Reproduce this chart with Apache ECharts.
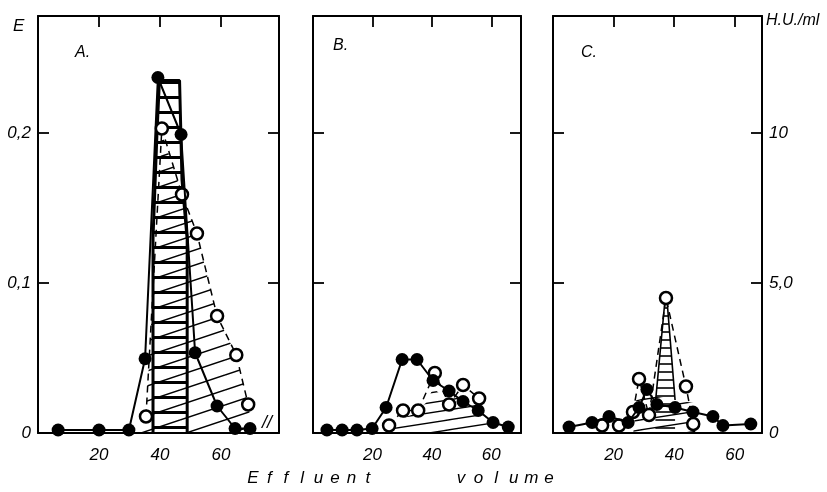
<!DOCTYPE html>
<html><head><meta charset="utf-8">
<script src="https://cdn.jsdelivr.net/npm/echarts@6/dist/echarts.min.js"></script>
<style>html,body{margin:0;padding:0;background:#fff}#c{width:827px;height:492px}</style>
</head><body><div id="c"></div>
<script>
// ---- data (effluent volume, E / H.U.) ----
const xTicks = [20, 40, 60];
const eTicks = [0, 0.1, 0.2];
const eTickLabels = ['0', '0,1', '0,2'];
const huTicks = [0, 5, 10];
const huTickLabels = ['0', '5,0', '10'];

const aFilled = [[6.6,0.002],[20,0.002],[29.8,0.002],[35.1,0.0495],[39.3,0.237],[46.9,0.199],[51.5,0.0535],[58.7,0.018],[64.6,0.003],[69.5,0.003]];
const aOpen = [[35.4,0.011],[40.6,0.203],[47.2,0.159],[52.1,0.133],[58.7,0.078],[65,0.052],[68.9,0.019]];
const aHatch = [[33.5,0],[35.4,0.011],[40.6,0.2],[47.2,0.159],[52.1,0.133],[58.7,0.078],[65,0.052],[68.9,0.019],[70.5,0]];
const aLadder = [[37.7,0],[37.7,0.13],[39,0.2],[39.8,0.235],[46.4,0.235],[47.2,0.169],[48.9,0.129],[48.9,0]];

const bFilled = [[4.7,0.002],[9.8,0.002],[14.8,0.002],[19.9,0.003],[24.6,0.017],[30,0.049],[35,0.049],[40.4,0.035],[45.8,0.028],[50.5,0.021],[55.6,0.015],[60.6,0.007],[65.7,0.004]];
const bOpen = [[25.6,0.005],[30.3,0.015],[35.4,0.015],[41,0.040],[45.8,0.019],[50.5,0.032],[55.9,0.023]];
const bHatch = [[25,0],[27,0.008],[33,0.012],[38,0.02],[40.5,0.03],[45,0.022],[50.5,0.025],[55.9,0.02],[60,0]];

const cFilled = [[5.3,0.004],[12.9,0.007],[18.5,0.011],[24.8,0.007],[28.4,0.017],[31,0.029],[34.3,0.019],[40.3,0.017],[46.2,0.014],[52.8,0.011],[56.1,0.005],[65.3,0.006]];
const cOpen = [[16.2,0.005],[21.8,0.005],[26.4,0.014],[28.4,0.036],[31.7,0.012],[37.3,0.09],[43.9,0.031],[46.3,0.006]];
const cHatch = [[26.5,0],[27.5,0.022],[33,0.025],[40,0.022],[46.5,0.02],[47,0]];
const cSpikeHU = [[33.8,1.0],[36.9,4.35],[37.7,4.35],[40.3,1.1]];

// ---- patterns ----
function pattern(w, h, lw, fn) {
  const c = document.createElement('canvas'); c.width = w; c.height = h;
  const g = c.getContext('2d'); g.strokeStyle = '#000'; g.lineWidth = lw; fn(g, w, h);
  return { image: c, repeat: 'repeat' };
}
function diag(w, h, lw) {
  return pattern(w, h, lw, (g, W, H) => { for (let k = -1; k <= 1; k++) { g.beginPath(); g.moveTo(0, H + k * H); g.lineTo(W, k * H); g.stroke(); } });
}
function rungs(w, h, lw) {
  return pattern(w, h, lw, (g, W, H) => { g.beginPath(); g.moveTo(0, H / 2); g.lineTo(W, H / 2); g.stroke(); });
}
const diagA = diag(45, 15, 1.5), diagB = diag(64, 10, 1.3), rungA = rungs(8, 15, 3), rungC = rungs(8, 8, 1.6);

const FONT = '"Liberation Sans", Arial, sans-serif';
const axLine = { show: true, onZero: false, lineStyle: { color: '#000', width: 2 } };
const tickStyle = { color: '#000', width: 1.8 };
const lab = { color: '#000', fontSize: 17, fontStyle: 'italic', fontFamily: FONT };

function xBottom(gi, max) {
  return { type: 'value', gridIndex: gi, min: 0, max, position: 'bottom', axisLine: axLine, axisTick: { show: false },
    splitLine: { show: false }, axisLabel: Object.assign({ customValues: xTicks, margin: 14 }, lab) };
}
function xTop(gi, max) {
  return { type: 'value', gridIndex: gi, min: 0, max, position: 'top', axisLine: axLine,
    axisTick: { show: true, inside: true, length: 11, customValues: xTicks, lineStyle: tickStyle },
    axisLabel: { show: false, customValues: xTicks }, splitLine: { show: false } };
}
function yAx(gi, pos, max, ticks, labels, tickVals, showLabel) {
  return { type: 'value', gridIndex: gi, min: 0, max, position: pos, axisLine: axLine,
    axisTick: { show: true, inside: true, length: 11, customValues: tickVals, lineStyle: tickStyle },
    axisLabel: Object.assign({ show: showLabel, customValues: ticks, margin: 7,
      formatter: v => { const i = ticks.findIndex(t => Math.abs(t - v) < 1e-9); return i >= 0 ? labels[i] : ''; } }, lab),
    splitLine: { show: false } };
}
const EMAX = 0.278, HUMAX = 13.9;

function hatch(xi, yi, data, col) {
  return { type: 'line', xAxisIndex: xi, yAxisIndex: yi, data, symbol: 'none', silent: true, clip: false,
    lineStyle: { width: 0, opacity: 0 }, areaStyle: { color: col, opacity: 1 }, z: 1 };
}
function outlined(xi, yi, data, col, w) {
  return { type: 'line', xAxisIndex: xi, yAxisIndex: yi, data, symbol: 'none', silent: true, clip: false,
    lineStyle: { width: w, color: '#000' }, areaStyle: { color: col, opacity: 1 }, z: 2 };
}
function openS(xi, yi, data) {
  return { type: 'line', xAxisIndex: xi, yAxisIndex: yi, data, symbol: 'circle', symbolSize: 12, showAllSymbol: true, silent: true, clip: false,
    itemStyle: { color: '#fff', borderColor: '#000', borderWidth: 2.5 }, lineStyle: { color: '#000', width: 1.5, type: [7, 5] }, z: 3 };
}
function filledS(xi, yi, data) {
  return { type: 'line', xAxisIndex: xi, yAxisIndex: yi, data, symbol: 'circle', symbolSize: 13, showAllSymbol: true, silent: true, clip: false,
    itemStyle: { color: '#000' }, lineStyle: { color: '#000', width: 2 }, z: 4 };
}

const graphics = [];
function txt(x, y, s, size, align) {
  graphics.push({ type: 'text', x, y, silent: true,
    style: { text: s, fill: '#000', font: 'italic ' + size + 'px ' + FONT, align: align || 'left', verticalAlign: 'middle' } });
}
txt(13, 26, 'E', 17);
txt(75, 53, 'A.', 16);
txt(333, 46, 'B.', 16);
txt(581, 53, 'C.', 16);
txt(766, 21, 'H.U./ml', 16);
txt(262, 423, '//', 18);
'Effluent'.split('').forEach((ch, i) => txt(253 + i * 16.4, 478, ch, 17, 'center'));
'volume'.split('').forEach((ch, i) => txt(461 + i * 17.6, 478, ch, 17, 'center'));

const option = {
  animation: false,
  backgroundColor: '#fff',
  grid: [
    { left: 38, top: 16, width: 241, height: 417 },
    { left: 313, top: 16, width: 208, height: 417 },
    { left: 553, top: 16, width: 209, height: 417 }
  ],
  xAxis: [xBottom(0, 79), xTop(0, 79), xBottom(1, 70), xTop(1, 70), xBottom(2, 69), xTop(2, 69)],
  yAxis: [
    yAx(0, 'left', EMAX, eTicks, eTickLabels, [0.1, 0.2], true),
    yAx(0, 'right', EMAX, eTicks, eTickLabels, [0.1, 0.2], false),
    yAx(1, 'left', EMAX, eTicks, eTickLabels, [0.1, 0.2], false),
    yAx(1, 'right', EMAX, eTicks, eTickLabels, [0.1, 0.2], false),
    yAx(2, 'left', EMAX, eTicks, eTickLabels, [0.1, 0.2], false),
    yAx(2, 'right', HUMAX, huTicks, huTickLabels, [5, 10], true)
  ],
  series: [
    hatch(0, 0, aHatch, diagA),
    outlined(0, 0, aLadder, rungA, 3),
    openS(0, 0, aOpen),
    filledS(0, 0, aFilled),
    hatch(2, 2, bHatch, diagB),
    openS(2, 2, bOpen),
    filledS(2, 2, bFilled),
    hatch(4, 4, cHatch, diagB),
    outlined(4, 5, cSpikeHU, rungC, 1.6),
    openS(4, 4, cOpen),
    filledS(4, 4, cFilled)
  ],
  graphic: graphics
};
const chart = echarts.init(document.getElementById('c'));
chart.setOption(option);
</script></body></html>
